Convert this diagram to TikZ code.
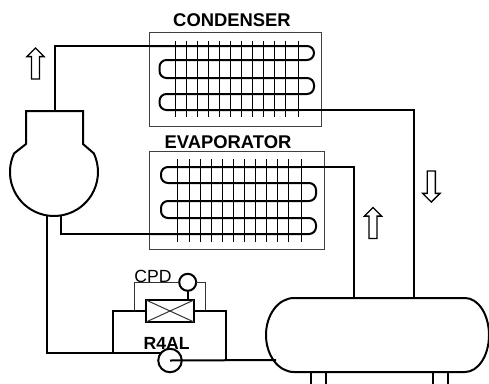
\documentclass[tikz,border=0pt]{standalone}
\usepackage{fontspec}
\setmainfont{Liberation Sans}
\usetikzlibrary{shapes.arrows}
\tikzset{
        pipe/.style={line width=2pt,line join=miter},
        coil/.style={line width=2pt,rounded corners=7pt},
        fin/.style={line width=1.4pt},
        thinline/.style={line width=1pt,draw=black!80},
        coilbox/.style={rectangle,draw=black!75,line width=1pt,inner sep=0pt,outer sep=0pt},
        title/.style={font=\bfseries\fontsize{18.4}{20}\selectfont,inner sep=0pt},
        flow/.style={single arrow,draw,line width=1.3pt,inner sep=3.4pt,outer sep=0pt,
                minimum width=16.5pt,minimum height=31pt,single arrow head extend=4.6pt,
                single arrow tip angle=90}
}
\begin{document}
\begin{tikzpicture}[x=1pt,y=-1pt]
        \useasboundingbox (0,0) rectangle (489,383);
        % boxes and titles
        \node[coilbox,minimum width=172pt,minimum height=94pt](condenser) at (235.5,79.5){};
        \node[coilbox,minimum width=175pt,minimum height=98pt](evaporator) at (237,200.5){};
        \node[title](condensertitle) at (232,20.5){CONDENSER};
        \node[title](evaporatortitle) at (228,141.7){EVAPORATOR};
        \node[font=\fontsize{17.6}{20}\selectfont,inner sep=0pt](cpdtitle) at (153,276.5){CPD};
        % fins
        \foreach \x in {175.5,186.5,197.5,208.5,219.5,230.5,241.5,252.5,263.5,274.5,285.5,298.5}
          \draw[fin] (\x,41) -- (\x,117);
        \foreach \x in {177.5,189.5,200.5,211.5,222.5,233.5,244.5,255.5,266.5,277.5,288.5,301.5}
          \draw[fin] (\x,159) -- (\x,242);
        % coils
        \coordinate (condin) at (150,46);
        \coordinate (condout) at (300,110);
        \coordinate (evapin) at (300,167);
        \coordinate (evapout) at (150,234);
        \draw[coil] (condin) -- (314,46) -- (314,60) -- (159.5,60) -- (159.5,78)
          -- (314,78) -- (314,94) -- (159.5,94) -- (159.5,110) -- (condout);
        \draw[coil] (evapin) -- (161,167) -- (161,183) -- (316,183) -- (316,201)
          -- (161,201) -- (161,218) -- (316,218) -- (316,234) -- (evapout);
        % compressor
        \coordinate (compup) at (55,111);
        \coordinate (compin) at (61,216);
        \coordinate (compliquid) at (46.5,216);
        \draw[pipe] (26,111) -- (26,144) -- (14.1,153.4) arc[start angle=205,end angle=-25,radius=44]
          -- (83,144) -- (83,111) -- cycle;
        % receiver
        \coordinate (recvsuction) at (354,298);
        \coordinate (recvdrain) at (414,298);
        \coordinate (recvliquid) at (276,360);
        \draw[pipe] (294,298) arc[start angle=270,end angle=90,x radius=28,y radius=37]
          -- (465,372) arc[start angle=90,end angle=-90,x radius=24,y radius=37] -- cycle;
        \foreach \x in {311,326,433,448}
          \draw[pipe] (\x,372) -- (\x,384);
        % valve and bulb
        \node[draw,line width=2pt,minimum width=48pt,minimum height=22pt,inner sep=0pt,outer sep=0pt](valve) at (170,311){};
        \node[circle,draw,line width=2pt,minimum size=17pt,inner sep=0pt,outer sep=0pt](bulb) at (187.7,282.3){};
        \node[circle,draw,line width=2pt,minimum size=23.5pt,inner sep=0pt,outer sep=0pt](filter) at (170,360.5){};
        \draw[thinline] (valve.north west) -- (valve.south east);
        \draw[thinline] (valve.south west) -- (valve.north east);
        \coordinate (capleft) at (134,310);
        \coordinate (capright) at (205,310);
        \draw[thinline] (capleft) |- (bulb.west);
        \draw[thinline] (capright) |- (bulb.east);
        \draw[pipe] (bulb.south) -- (bulb.south |- valve.north);
        % pipes
        \coordinate (lowjoin) at (113,353);
        \coordinate (highjoin) at (226,360);
        \draw[pipe] (compup) |- (condin);
        \draw[pipe] (condout) -| (recvdrain);
        \draw[pipe] (recvsuction) |- (evapin);
        \draw[pipe] (compin) |- (evapout);
        \draw[pipe] (compliquid) |- (filter.140);
        \draw[pipe] (filter.center) -- (recvliquid);
        \draw[pipe] (valve.west) -| (lowjoin);
        \draw[pipe] (valve.east) -| (highjoin);
        \node[font=\bfseries\fontsize{17.6}{20}\selectfont,inner sep=0pt](r4al) at (166.7,343.3){R4AL};
        % flow arrows
        \node[flow,rotate=90](flowup) at (35.5,65.5){};
        \node[flow,rotate=90](flowback) at (373,225){};
        \node[flow,rotate=-90](flowdown) at (431.3,184.5){};
\end{tikzpicture}
\end{document}
